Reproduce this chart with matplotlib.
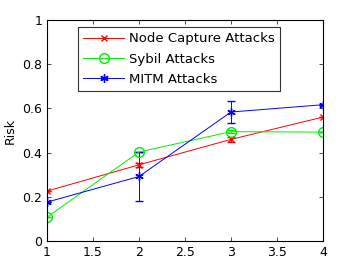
import matplotlib
matplotlib.use("Agg")
import matplotlib.pyplot as plt
from matplotlib.lines import Line2D

x = [1, 2, 3, 4]
node_capture = [0.226, 0.345, 0.46, 0.561]
node_capture_err = [0.0, 0.01, 0.01, 0.0]
sybil = [0.108, 0.403, 0.495, 0.493]
sybil_err = [0.0, 0.0, 0.008, 0.0]
mitm = [0.176, 0.292, 0.584, 0.617]
mitm_err = [0.0, 0.11, 0.05, 0.0]
labels = ["Node Capture Attacks", "Sybil Attacks", "MITM Attacks"]

fig = plt.figure(figsize=(3.57, 2.72), dpi=100)
ax = fig.add_axes([0.1317, 0.114, 0.773, 0.812])

styles = [
    dict(color='#ff0000', marker='x', ms=5),
    dict(color='#00ee00', marker='o', mfc='none', ms=7),
    dict(color='#0000ff', marker=(6, 2, 0), ms=6),
]
series = [(node_capture, node_capture_err), (sybil, sybil_err), (mitm, mitm_err)]
handles = []
for (y, e), st, lab in zip(series, styles, labels):
    ax.errorbar(x, y, yerr=e, lw=0.7, capsize=3, elinewidth=0.7, **st)
    handles.append(Line2D([], [], lw=0.7, **st))

ax.set_xlim(1, 4)
ax.set_ylim(0, 1)
ax.set_xticks([1, 1.5, 2, 2.5, 3, 3.5, 4])
ax.set_xticklabels(['1', '1.5', '2', '2.5', '3', '3.5', '4'])
ax.set_yticks([0, 0.2, 0.4, 0.6, 0.8, 1])
ax.set_yticklabels(['0', '0.2', '0.4', '0.6', '0.8', '1'])
ax.tick_params(direction='in', top=True, right=True, labelsize=9, length=3, width=0.5)
for s in ax.spines.values():
    s.set_linewidth(0.8)
ax.set_ylabel('Risk', fontsize=9, labelpad=4)

leg = ax.legend(handles, labels, loc='upper left', bbox_to_anchor=(0.112, 0.968), fontsize=9.5,
                frameon=True, fancybox=False, edgecolor='black', borderpad=0.4,
                labelspacing=0.55, handlelength=3.1, handletextpad=0.4, borderaxespad=0)
leg.get_frame().set_linewidth(0.8)

fig.savefig('out.png', dpi=100)
